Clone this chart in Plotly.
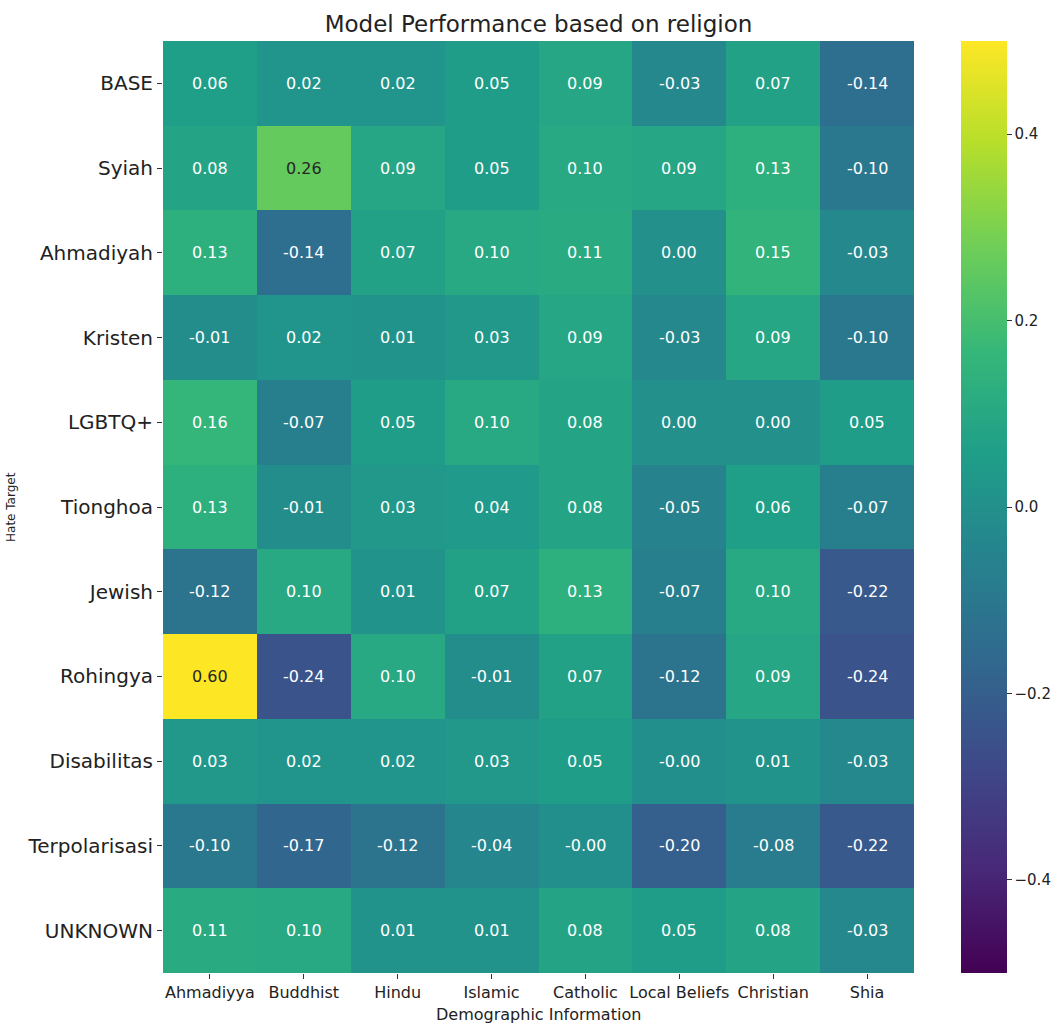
import plotly.graph_objects as go

columns = ["Ahmadiyya", "Buddhist", "Hindu", "Islamic", "Catholic", "Local Beliefs", "Christian", "Shia"]
rows = ["BASE", "Syiah", "Ahmadiyah", "Kristen", "LGBTQ+", "Tionghoa", "Jewish", "Rohingya",
        "Disabilitas", "Terpolarisasi", "UNKNOWN"]

values = [
    [0.06, 0.02, 0.02, 0.05, 0.09, -0.03, 0.07, -0.14],
    [0.08, 0.26, 0.09, 0.05, 0.10, 0.09, 0.13, -0.10],
    [0.13, -0.14, 0.07, 0.10, 0.11, 0.00, 0.15, -0.03],
    [-0.01, 0.02, 0.01, 0.03, 0.09, -0.03, 0.09, -0.10],
    [0.16, -0.07, 0.05, 0.10, 0.08, 0.00, 0.00, 0.05],
    [0.13, -0.01, 0.03, 0.04, 0.08, -0.05, 0.06, -0.07],
    [-0.12, 0.10, 0.01, 0.07, 0.13, -0.07, 0.10, -0.22],
    [0.60, -0.24, 0.10, -0.01, 0.07, -0.12, 0.09, -0.24],
    [0.03, 0.02, 0.02, 0.03, 0.05, -0.004, 0.01, -0.03],
    [-0.10, -0.17, -0.12, -0.04, -0.004, -0.20, -0.08, -0.22],
    [0.11, 0.10, 0.01, 0.01, 0.08, 0.05, 0.08, -0.03],
]

title = "Model Performance based on religion"
x_title = "Demographic Information"
y_title = "Hate Target"
zmin, zmax = -0.5, 0.5

FONT = "DejaVu Sans"
L, R, T, B = 163, 914, 41, 973
PW, PH = R - L, B - T

fig = go.Figure()
fig.add_trace(go.Heatmap(
    z=values, x=columns, y=rows,
    colorscale="Viridis", zmin=zmin, zmax=zmax,
    showscale=True, xgap=0, ygap=0,
    colorbar=dict(
        x=(961 - L) / PW, xanchor="left", xref="paper",
        y=0.5, yanchor="middle", len=1.0, lenmode="fraction",
        xpad=0, ypad=0,
        thickness=46, thicknessmode="pixels",
        outlinewidth=0,
        tickmode="array", tickvals=[-0.4, -0.2, 0.0, 0.2, 0.4],
        ticktext=["\u22120.4", "\u22120.2", "0.0", "0.2", "0.4"],
        ticks="outside", ticklen=5, tickcolor="#333", tickwidth=1,
        tickfont=dict(family=FONT, size=15, color="#222"),
    ),
))

annotations = []
for i, r in enumerate(rows):
    for j, c in enumerate(columns):
        v = values[i][j]
        norm = (min(max(v, zmin), zmax) - zmin) / (zmax - zmin)
        color = "#262626" if norm > 0.72 else "white"
        annotations.append(dict(
            x=c, y=r, xref="x", yref="y", text=f"{v:.2f}", showarrow=False,
            font=dict(family=FONT, size=16, color=color),
        ))

annotations.append(dict(
    x=(11 - L) / PW, y=0.5, xref="paper", yref="paper", text=y_title,
    textangle=-90, showarrow=False, xanchor="center", yanchor="middle",
    font=dict(family=FONT, size=12, color="#222"),
))
annotations.append(dict(
    x=0.5, y=-(1015 - B) / PH, xref="paper", yref="paper", text=x_title,
    showarrow=False, xanchor="center", yanchor="middle",
    font=dict(family=FONT, size=16, color="#222"),
))

fig.update_layout(
    width=1064, height=1030,
    margin=dict(l=L, r=1064 - R, t=T, b=1030 - B, pad=0, autoexpand=False),
    paper_bgcolor="white", plot_bgcolor="white",
    title=dict(text=title, x=(L + R) / 2 / 1064, xanchor="center",
               y=1 - 24 / 1030, yanchor="middle",
               font=dict(family=FONT, size=23, color="#222")),
    annotations=annotations,
    xaxis=dict(
        tickfont=dict(family=FONT, size=16, color="#222"),
        ticks="outside", ticklen=5, tickcolor="#333",
        showgrid=False, zeroline=False, showline=False,
    ),
    yaxis=dict(
        autorange="reversed",
        tickfont=dict(family=FONT, size=20, color="#222"),
        ticks="outside", ticklen=5, tickcolor="#333",
        showgrid=False, zeroline=False, showline=False,
    ),
)

fig.write_html("out.html", config={"displayModeBar": False},
               post_script="document.body.style.margin='0';document.body.style.padding='0';")
